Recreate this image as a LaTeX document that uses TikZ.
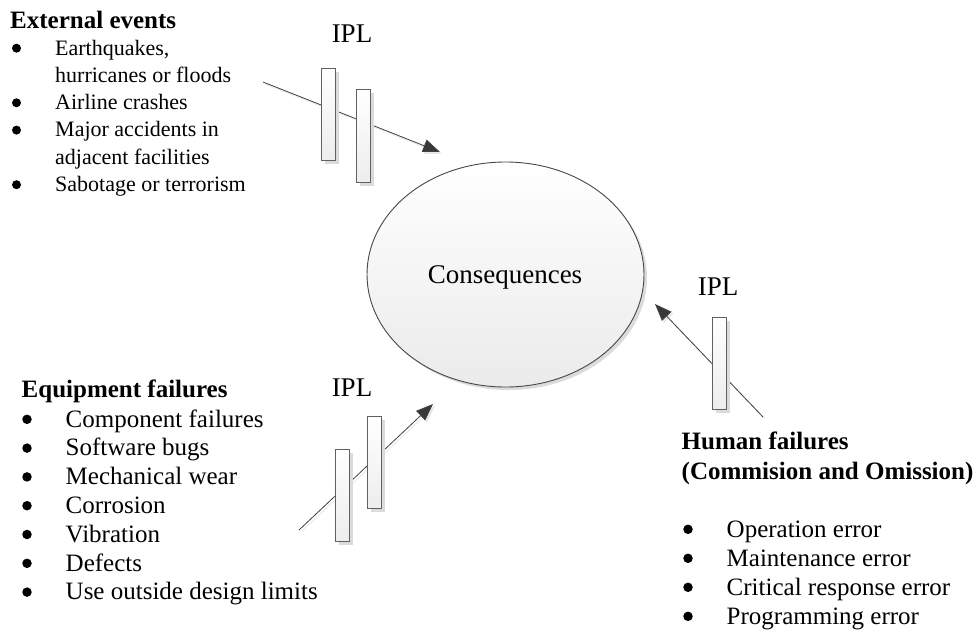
\documentclass[tikz,border=0pt]{standalone}
\usepackage{fontspec}
\setmainfont{Liberation Serif}
\usetikzlibrary{shadows,arrows.meta,shapes.geometric}
\begin{document}
\begin{tikzpicture}[x=1pt,y=-1pt,
  ipl/.style={rectangle, draw=black!62, line width=0.9pt, inner sep=0pt,
    minimum width=14pt, minimum height=92pt, top color=white, bottom color=black!7,
    drop shadow={shadow xshift=3.5pt, shadow yshift=-3.5pt, fill=black!14, opacity=1}},
  conn/.style={draw=black!75, line width=0.8pt,
    -{Triangle[length=17pt,width=13pt,fill=black!78]}},
  connshadow/.style={draw=black!9, line width=0.9pt,
    -{Triangle[length=17pt,width=13pt,fill=black!9]}},
  conse/.style={ellipse, draw=black!72, line width=0.9pt, inner sep=0pt,
    minimum width=277pt, minimum height=225pt, top color=white, bottom color=black!8,
    drop shadow={shadow xshift=3pt, shadow yshift=-3pt, fill=black!14, opacity=1}},
  head/.style={anchor=base west, inner sep=0pt, font=\fontsize{25}{30}\selectfont\bfseries},
  itemA/.style={anchor=base west, inner sep=0pt, font=\fontsize{22}{26}\selectfont},
  itemB/.style={anchor=base west, inner sep=0pt, font=\fontsize{25}{30}\selectfont},
  bulA/.style={circle, fill=black, inner sep=0pt, minimum size=9pt, yshift=6.8pt},
  bulB/.style={circle, fill=black, inner sep=0pt, minimum size=9.5pt, yshift=7.7pt},
  lbl/.style={anchor=base, inner sep=0pt, font=\fontsize{27}{32}\selectfont}
]
\useasboundingbox (0,0) rectangle (976,630);

% consequences
\node[conse] (cons) at (505.5,274.5) {};
\node[lbl] (constxt) at (505,283) {Consequences};

% arrows
\coordinate (s1) at (263,82);
\coordinate (e1) at (440,152);
\coordinate (s2) at (299,530);
\coordinate (e2) at (433,404);
\coordinate (s3) at (763,417);
\coordinate (e3) at (655,304);
\draw[connshadow] ([shift={(2,2)}]s1) -- ([shift={(2,2)}]e1);
\draw[connshadow] ([shift={(2,2)}]s2) -- ([shift={(2,2)}]e2);
\draw[connshadow] ([shift={(2,2)}]s3) -- ([shift={(2,2)}]e3);
\draw[conn] (s1) -- (e1);
\draw[conn] (s2) -- (e2);
\draw[conn] (s3) -- (e3);

% IPL bars
\node[ipl] (r1) at (328,114) {};
\node[ipl, minimum height=93pt] (r2) at (363,135.5) {};
\node[ipl] (r3) at (342,495) {};
\node[ipl] (r4) at (374,462) {};
\node[ipl] (r5) at (719,363) {};

\node[lbl] (ipl1) at (352,42.5) {IPL};
\node[lbl] (ipl2) at (352,396) {IPL};
\node[lbl] (ipl3) at (718,295) {IPL};

% External events
\node[head] (exth) at (10,28) {External events};
\node[bulA] (eb1) at (16.5,55) {};
\node[itemA] (ei1) at (55,55) {Earthquakes,};
\node[itemA] (ei1b) at (55,82.3) {hurricanes or floods};
\node[bulA] (eb2) at (16.5,109.6) {};
\node[itemA] (ei2) at (55,109.6) {Airline crashes};
\node[bulA] (eb3) at (16.5,136.9) {};
\node[itemA] (ei3) at (55,136.9) {Major accidents in};
\node[itemA] (ei3b) at (55,164.2) {adjacent facilities};
\node[bulA] (eb4) at (16.5,191.5) {};
\node[itemA] (ei4) at (55,191.5) {Sabotage or terrorism};

% Equipment failures
\node[head] (eqh) at (21.5,397) {Equipment failures};
\node[bulB] (qb1) at (27,427) {};
\node[itemB] (qi1) at (65.5,427) {Component failures};
\node[bulB] (qb2) at (27,455.8) {};
\node[itemB] (qi2) at (65.5,455.8) {Software bugs};
\node[bulB] (qb3) at (27,484.6) {};
\node[itemB] (qi3) at (65.5,484.6) {Mechanical wear};
\node[bulB] (qb4) at (27,513.4) {};
\node[itemB] (qi4) at (65.5,513.4) {Corrosion};
\node[bulB] (qb5) at (27,542.2) {};
\node[itemB] (qi5) at (65.5,542.2) {Vibration};
\node[bulB] (qb6) at (27,571) {};
\node[itemB] (qi6) at (65.5,571) {Defects};
\node[bulB] (qb7) at (27,599.8) {};
\node[itemB] (qi7) at (65.5,599.8) {Use outside design limits};

% Human failures
\node[head] (huh) at (681.5,449.5) {Human failures};
\node[head] (huh2) at (681.5,479.5) {(Commision and Omission)};
\node[bulB] (hb1) at (688,537) {};
\node[itemB] (hi1) at (726.5,537) {Operation error};
\node[bulB] (hb2) at (688,566) {};
\node[itemB] (hi2) at (726.5,566) {Maintenance error};
\node[bulB] (hb3) at (688,595) {};
\node[itemB] (hi3) at (726.5,595) {Critical response error};
\node[bulB] (hb4) at (688,624) {};
\node[itemB] (hi4) at (726.5,624) {Programming error};
\end{tikzpicture}
\end{document}
